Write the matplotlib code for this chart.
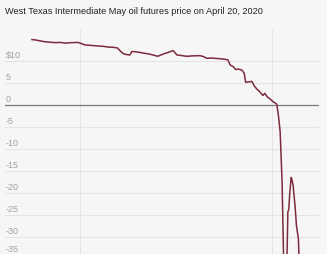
import numpy as np
from matplotlib import pyplot as plt

# intraday time (hours, ET) and price ($/barrel)
hours = [9.00, 9.08, 9.17, 9.27, 9.38, 9.48, 9.58, 9.70, 9.82, 9.96,
         10.05, 10.10, 10.20, 10.31, 10.42, 10.50, 10.58, 10.69, 10.78, 10.83,
         10.90, 10.97, 11.04, 11.08, 11.18, 11.31, 11.45, 11.62, 11.73, 11.84,
         11.94, 12.02, 12.10, 12.22, 12.35, 12.50, 12.58, 12.64, 12.75, 12.85,
         12.97, 13.08, 13.13, 13.20, 13.24, 13.30, 13.37, 13.42, 13.45, 13.52,
         13.58, 13.63, 13.68, 13.74, 13.81, 13.85, 13.90, 13.96, 14.02, 14.08,
         14.10, 14.14, 14.17, 14.21, 14.24, 14.27, 14.30, 14.31, 14.33, 14.35,
         14.37, 14.40, 14.42, 14.44, 14.48, 14.51, 14.55, 14.56, 14.58]
price = [14.8, 14.7, 14.5, 14.3, 14.2, 14.1, 14.15, 14.0, 14.1, 14.15,
         13.8, 13.6, 13.5, 13.4, 13.3, 13.25, 13.1, 13.05, 12.9, 12.3,
         11.6, 11.4, 11.3, 12.1, 12.0, 11.75, 11.5, 11.0, 11.5, 11.9,
         12.3, 11.3, 11.2, 11.0, 11.1, 11.15, 10.9, 10.55, 10.6, 10.5,
         10.4, 10.2, 9.0, 8.6, 8.0, 8.1, 7.9, 7.2, 5.1, 5.2,
         5.3, 4.3, 3.6, 3.0, 2.1, 2.6, 1.8, 1.3, 0.7, 0.3,
         0.1, -3.0, -6.2, -17.6, -34.0, -40.0, -40.0, -36.0, -24.4, -23.7,
         -20.0, -16.5, -17.2, -18.4, -23.0, -27.5, -30.5, -34.0, -40.0]

gridvals = [10, 5, -5, -10, -15, -20, -25, -30, -35]
labels = ["$10", "5", "0", "-5", "-10", "-15", "-20", "-25", "-30", "-35"]
labelvals = [10, 5, 0, -5, -10, -15, -20, -25, -30, -35]
vgrid = [10, 14]

bg = "#f6f6f6"
fig = plt.figure(figsize=(3.27, 2.55), dpi=100, facecolor=bg)
ax = fig.add_axes([5/327, 0, 314/327, 225/255], facecolor=bg)
ax.set_xlim(8.4375, 14.979)
ax.set_ylim(-33.9, 17.2)

for g in gridvals:
    ax.axhline(g, color="#e4e4e4", lw=0.8, zorder=1)
for v in vgrid:
    ax.axvline(v, color="#e4e4e4", lw=0.8, zorder=1)
ax.axhline(0, color="#7a7a7a", lw=0.9, zorder=2)

ax.plot(hours, price, color="#7d2b3d", lw=1.1, zorder=3)

for lab, val in zip(labels, labelvals):
    off = 1.5 if val > -35 else 2.3
    ax.text(0.003, val + off, lab, transform=ax.get_yaxis_transform(),
            ha="left", va="center", fontsize=6.5, color="#a0a0a0",
            family="Liberation Sans", clip_on=False, zorder=4)

for s in ax.spines.values():
    s.set_visible(False)
ax.set_xticks([])
ax.set_yticks([])

fig.text(5/327, 1 - 12/255, "West Texas Intermediate May oil futures price on April 20, 2020",
         ha="left", va="center", fontsize=6.6, color="#222222",
         family="Liberation Sans")

fig.savefig("out.png", dpi=100, facecolor=bg)
